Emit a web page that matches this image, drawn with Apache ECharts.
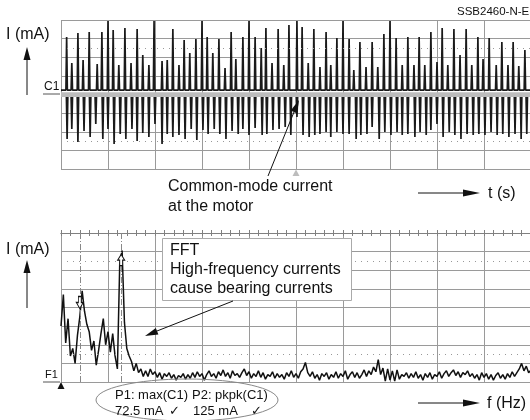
<!DOCTYPE html>
<html><head><meta charset="utf-8">
<script src="https://cdn.jsdelivr.net/npm/echarts@6/dist/echarts.min.js"></script>
<style>html,body{margin:0;padding:0;background:#fff}#c{width:530px;height:420px}</style>
</head><body><div id="c"></div>
<script>
// ---- time-domain trace (C1): spike times (0..100 = 10 divisions) and peaks (divisions)
const upTimes = [1.2,2.3,3.6,4.7,6.0,7.7,8.7,10.0,11.1,12.3,13.6,14.9,16.2,17.4,18.7,19.8,21.5,22.6,23.8,25.1,26.2,27.4,28.7,30.0,31.1,32.3,33.6,34.9,36.2,37.2,38.7,40.0,41.3,42.6,43.6,44.9,46.2,47.4,48.5,50.2,51.3,52.6,53.8,55.1,56.4,57.4,58.7,60.0,61.3,62.3,63.6,64.9,66.2,67.4,68.7,70.0,71.3,72.6,73.8,75.1,76.2,77.4,78.7,80.0,81.1,82.3,83.6,84.9,86.2,87.4,88.7,89.8,91.1,92.6,93.8,95.1,96.2,97.4,98.7];
const upPeaks = [3.09,1.69,3.30,1.85,3.36,1.63,3.36,3.95,3.46,1.58,3.57,1.69,3.52,2.12,1.58,3.95,1.80,1.85,3.52,1.58,2.93,2.23,2.98,3.95,3.09,2.23,2.98,1.42,3.36,1.90,3.09,3.95,3.09,2.50,3.57,1.69,3.52,1.58,3.73,3.95,3.62,1.69,3.52,1.48,3.36,1.58,3.03,3.95,2.98,1.32,2.82,1.48,2.82,1.48,3.25,3.95,3.03,1.58,3.09,1.58,3.09,1.58,3.36,1.74,3.57,1.58,3.52,2.12,3.52,1.58,3.09,1.90,3.03,1.58,2.82,1.58,2.82,1.53,2.39];
const downTimes = [1.3,2.3,3.6,4.9,6.2,7.4,8.9,10.0,11.3,12.6,13.8,15.1,16.2,17.4,18.7,20.0,21.5,22.6,23.8,25.1,26.4,27.7,28.9,30.2,31.3,32.6,33.8,35.1,36.4,37.7,38.7,40.0,41.3,42.8,43.8,45.1,46.4,47.7,48.9,50.2,51.5,52.8,54.0,55.1,56.4,57.4,58.7,60.0,61.3,62.8,63.8,65.1,66.2,67.7,68.9,70.2,71.5,72.6,73.8,75.3,76.4,77.7,78.7,80.0,81.3,82.6,83.8,85.1,86.4,87.7,88.9,90.2,91.5,92.8,94.0,95.3,96.6,97.9,99.1];
const downPeaks = [-2.39,-1.85,-2.55,-1.96,-2.28,-1.58,-2.39,-1.85,-2.66,-2.12,-2.39,-1.85,-2.50,-2.07,-2.28,-1.58,-2.66,-2.12,-2.28,-2.17,-2.39,-1.85,-2.44,-1.91,-2.12,-1.85,-2.12,-2.39,-1.96,-2.12,-1.85,-2.17,-1.80,-2.17,-2.12,-1.91,-1.85,-1.74,-2.17,-1.2,-2.17,-2.28,-2.17,-2.12,-2.01,-2.28,-2.01,-2.12,-2.12,-2.39,-2.17,-2.12,-1.74,-2.39,-2.01,-2.17,-2.01,-2.17,-2.12,-2.28,-2.01,-2.17,-1.91,-1.58,-2.28,-2.01,-2.17,-2.39,-2.12,-2.17,-2.12,-2.17,-2.01,-2.17,-2.12,-2.28,-2.12,-2.39,-2.12];
const upBaseline = 0.24;
const downBaseline = -0.13;

// ---- FFT trace (F1): bin width (x units) and magnitudes (divisions, centre = 0)
const fftBin = 0.5;
const fftValues = [
-1.0,0.7,-1.9,-0.6,-2.6,-2.2,-3.0,-1.5,-0.5,0.9,
-0.2,-0.9,-1.3,-2.3,-1.8,-3.1,-2.3,-1.4,-0.6,-2.0,
-1.3,-2.4,-1.4,-2.6,-3.3,2.4,3.06,-0.8,-2.2,-2.6,
-2.9,-3.4,-3.0,-3.5,-3.3,-3.7,
-3.4,-3.7,-3.3,-3.6,-3.45,-3.75,-3.5,-3.85,-3.55,-3.7,
-3.5,-3.8,-3.6,-3.9,-3.65,-3.75,-3.55,-3.85,-3.6,-3.8,
-3.5,-3.75,-3.45,-3.7,-3.55,-3.9,-3.6,-3.4,-3.7,-3.55,
-3.8,-3.45,-3.65,-3.35,-3.7,-3.5,-3.8,-3.4,-3.65,-3.55,
-3.75,-3.5,-3.3,-3.65,-3.45,-3.8,-3.55,-3.7,-3.4,-3.75,
-3.5,-3.85,-3.6,-3.7,-3.45,-3.8,-3.55,-3.75,-3.6,-3.85,
-3.5,-3.7,-3.4,-3.75,-3.55,-3.8,-3.45,-3.3,-2.95,-3.5,
-3.7,-3.45,-3.8,-3.6,-3.9,-3.55,-3.7,-3.5,-3.85,-3.6,
-3.75,-3.45,-3.8,-3.55,-3.7,-3.4,-3.85,-3.6,-3.45,-3.75,
-3.5,-3.8,-3.6,-3.35,-3.7,-3.4,-3.6,-3.2,-3.45,-2.8,
-3.6,-3.25,-3.95,-3.3,-3.9,-3.4,-3.95,-3.35,-3.85,-3.6,
-3.7,-3.5,-3.8,-3.55,-3.75,-3.45,-3.8,-3.6,-3.9,-3.55,
-3.75,-3.5,-3.85,-3.6,-3.7,-3.45,-3.8,-3.55,-3.4,-3.7,
-3.5,-3.35,-3.65,-3.45,-3.75,-3.5,-3.6,-3.4,-3.7,-3.55,
-3.8,-3.6,-3.9,-3.5,-3.75,-3.55,-3.85,-3.6,-3.9,-3.65,
-3.5,-3.8,-3.6,-3.85,-3.55,-3.75,-3.45,-3.7,-3.5,-3.3,
-3.0,-3.4,-3.15,-3.5,-3.35];
const cursorFreqs = [4.0, 12.8];
const measLabels = ['P1: max(C1)', 'P2: pkpk(C1)'];
const measValues = ['72.5 mA', '125 mA'];

// ---- build series data
const halfW = 0.15;
const upData = [[0, upBaseline]];
upTimes.forEach((t, i) => { upData.push([t - halfW, upBaseline], [t, upPeaks[i]], [t + halfW, upBaseline]); });
upData.push([100, upBaseline]);
const downData = [];
downTimes.forEach((t, i) => { downData.push([t - halfW, downBaseline], [t, downPeaks[i]], [t + halfW, downBaseline], [t + 0.2, null]); });
const fftData = fftValues.map((v, i) => [i * fftBin, v]);

const FONT = '"Liberation Sans", Arial, Helvetica, sans-serif';
const GRIDC = '#9a9a9a';

function xAx(gi) {
  return { type: 'value', gridIndex: gi, min: 0, max: 100, interval: 10,
    axisLine: { show: false }, axisTick: { show: false }, axisLabel: { show: false },
    splitLine: { show: true, lineStyle: { color: GRIDC, width: 1 } } };
}
function yAx(gi) {
  return { type: 'value', gridIndex: gi, min: -4, max: 4, interval: 1,
    axisLine: { show: false }, axisTick: { show: false }, axisLabel: { show: false },
    splitLine: { show: true, lineStyle: { color: GRIDC, width: 1 } } };
}
function centreAx(gi, inside) {
  return { type: 'value', gridIndex: gi, min: 0, max: 100, interval: 10,
    axisLine: { show: true, onZero: true, lineStyle: { color: '#808080' } },
    axisTick: { show: true, inside: inside, length: 3, lineStyle: { color: '#808080' } },
    minorTick: { show: true, splitNumber: 5, length: 3, lineStyle: { color: '#808080' } },
    axisLabel: { show: false }, splitLine: { show: false } };
}
const dotted = { silent: true, symbol: 'none', label: { show: false },
  lineStyle: { color: '#999', type: [1, 5], width: 1 }, data: [{ yAxis: 2.5 }, { yAxis: -2.5 }] };

function txt(text, x, y, size, extra) {
  return Object.assign({ type: 'text', z: 110, style: { text: text, x: x, y: y, fill: '#111',
    font: size + 'px ' + FONT, fontSize: size, fontFamily: FONT,
    textVerticalAlign: 'middle', verticalAlign: 'middle' } }, extra || {});
}
function line(x1, y1, x2, y2, color, w) {
  return { type: 'line', z: 110, shape: { x1: x1, y1: y1, x2: x2, y2: y2 }, style: { stroke: color || '#111', lineWidth: w || 1 } };
}
function tri(points, color) {
  return { type: 'polygon', z: 111, shape: { points: points }, style: { fill: color || '#111' } };
}

const chart = echarts.init(document.getElementById('c'), null, { renderer: 'canvas' });
chart.setOption({
  animation: false,
  backgroundColor: '#fff',
  grid: [
    { left: 61, top: 20, width: 470, height: 149, outerBoundsMode: 'none' },
    { left: 61, top: 233, width: 470, height: 149, outerBoundsMode: 'none' }
  ],
  xAxis: [xAx(0), xAx(1), centreAx(1, false), centreAx(1, true)],
  yAxis: [yAx(0), yAx(1)],
  series: [
    { type: 'line', xAxisIndex: 0, yAxisIndex: 0, data: upData, showSymbol: false, symbol: 'none',
      lineStyle: { color: '#1a1a1a', width: 1.7 }, z: 3,
      markLine: dotted,
      markArea: { silent: true, itemStyle: { color: '#bcbcbc' }, data: [[{ yAxis: -0.13 }, { yAxis: 0.12 }]] } },
    { type: 'line', xAxisIndex: 0, yAxisIndex: 0, data: downData, showSymbol: false, symbol: 'none',
      connectNulls: false, lineStyle: { color: '#1a1a1a', width: 1.7 }, z: 3 },
    { type: 'line', xAxisIndex: 1, yAxisIndex: 1, data: fftData, showSymbol: false, symbol: 'none',
      lineStyle: { color: '#111', width: 1.5 }, z: 3,
      markLine: { silent: true, symbol: 'none', label: { show: false },
        lineStyle: { color: '#999', type: [1, 5], width: 1 },
        data: [{ yAxis: 2.5 }, { yAxis: -2.5 },
          { xAxis: cursorFreqs[0], lineStyle: { color: '#888', type: [6, 2, 1, 2] } },
          { xAxis: cursorFreqs[1], lineStyle: { color: '#888', type: [6, 2, 1, 2] } }] },
      markPoint: { silent: true, label: { show: false },
        itemStyle: { color: '#fff', borderColor: '#111', borderWidth: 1 },
        data: [
          { coord: [cursorFreqs[0], 0.27], symbol: 'path://M3,0 L7,0 L7,6 L10,6 L5,12 L0,6 L3,6 Z', symbolSize: [7, 12] },
          { coord: [cursorFreqs[1], 2.55], symbol: 'path://M5,0 L10,6 L7,6 L7,12 L3,12 L3,6 L0,6 Z', symbolSize: [7, 11] }
        ] } }
  ],
  graphic: [
    txt('SSB2460-N-E', 457, 12, 11.5),
    // top panel
    txt('I (mA)', 6, 35, 16),
    line(27, 95, 27, 58), tri([[27, 47], [23.5, 60], [30.5, 60]]),
    txt('C1', 44, 87, 12),
    line(43, 94, 60, 94, '#555'),
    tri([[296, 169.5], [292.5, 176], [299.5, 176]], '#bdbdbd'),
    line(268, 176, 294, 112), tri([[299, 100], [297.1, 113.4], [290.7, 110.6]]),
    txt('Common-mode current', 168, 187, 16),
    txt('at the motor', 168, 207, 16),
    line(418, 193, 466, 193), tri([[480, 193], [463, 189.5], [463, 196.5]]),
    txt('t (s)', 488, 194, 16),
    // bottom panel
    txt('I (mA)', 6, 250, 16),
    line(27, 308, 27, 272), tri([[27, 260], [23.5, 273], [30.5, 273]]),
    { type: 'rect', z: 105, shape: { x: 162.5, y: 238.5, width: 189, height: 62 }, style: { fill: '#fff', stroke: '#aaa', lineWidth: 1 } },
    txt('FFT', 170, 251, 16),
    txt('High-frequency currents', 170, 270, 16),
    txt('cause bearing currents', 170, 289, 16),
    line(233, 301, 157, 331), tri([[145, 336], [158.4, 334.5], [155.8, 328]]),
    txt('F1', 45, 375, 11),
    line(43, 382, 60, 382, '#555'),
    tri([[61, 382], [57.5, 389], [64.5, 389]]),
    { type: 'ellipse', z: 104, shape: { cx: 187, cy: 400, rx: 91, ry: 21 }, style: { fill: null, stroke: '#888', lineWidth: 1 } },
    txt(measLabels[0], 115, 395, 13),
    txt(measLabels[1], 192, 395, 13),
    txt(measValues[0], 115, 411, 13),
    txt('\u2713', 169, 411, 13),
    txt(measValues[1], 193, 411, 13),
    txt('\u2713', 251, 411, 13),
    line(418, 403, 466, 403), tri([[480, 403], [463, 399.5], [463, 406.5]]),
    txt('f (Hz)', 487, 404, 16)
  ]
});
</script>
</body></html>
